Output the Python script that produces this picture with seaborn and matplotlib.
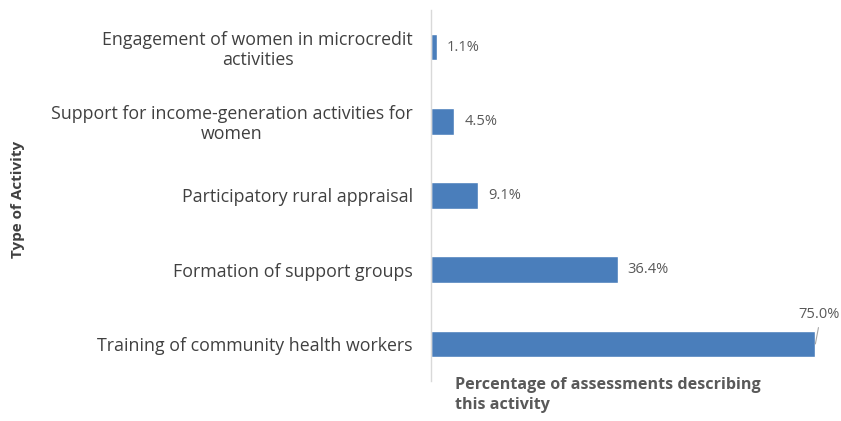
import matplotlib
matplotlib.use("Agg")
import seaborn as sns
import matplotlib.pyplot as plt

# data
activities = [
    "Engagement of women in microcredit\nactivities",
    "Support for income-generation activities for\nwomen",
    "Participatory rural appraisal",
    "Formation of support groups",
    "Training of community health workers",
]
percentages = [1.1, 4.5, 9.1, 36.4, 75.0]

sns.set_style("white")
plt.rcParams["font.family"] = ["Open Sans", "DejaVu Sans"]

fig = plt.figure(figsize=(8.41, 4.21), dpi=100)
ax = fig.add_axes([431 / 841, 1 - 381 / 421, 1 - 431 / 841, 371 / 421])

sns.barplot(x=percentages, y=activities, color="#4a7ebb", width=0.36,
            orient="h", ax=ax, saturation=1)

ax.set_xlim(0, 80)
ax.set_ylim(4.5, -0.5)
ax.set_xticks([])
ax.set_xlabel("")
ax.set_ylabel("")
for s in ["top", "right", "bottom"]:
    ax.spines[s].set_visible(False)
ax.spines["left"].set_color("#d9d9d9")
ax.spines["left"].set_linewidth(1)
ax.tick_params(axis="y", length=0, pad=13, labelsize=12.8, labelcolor="#404040")
for lbl in ax.get_yticklabels():
    lbl.set_multialignment("center")
    lbl.set_linespacing(1.15)

# data labels
for i, v in enumerate(percentages):
    if i == len(percentages) - 1:
        # label sits above the bar end with a short leader line
        ax.plot([v, v + 0.6], [i, i - 0.22], color="#a6a6a6", lw=0.8, clip_on=False)
        ax.text(v + 0.8, i - 0.4, f"{v:.1f}%", ha="center", va="center",
                fontsize=10.5, color="#595959")
    else:
        ax.text(v + 2.0, i, f"{v:.1f}%", ha="left", va="center",
                fontsize=10.5, color="#595959")

fig.text(455 / 841, 1 - 377 / 421, "Percentage of assessments describing\nthis activity",
         ha="left", va="top", fontsize=11.6, fontweight="bold", color="#595959",
         linespacing=1.3)
fig.text(18 / 841, 1 - 199 / 421, "Type of Activity", rotation=90, ha="center",
         va="center", fontsize=11, fontweight="bold", color="#404040")

fig.savefig("out.png", dpi=100)
